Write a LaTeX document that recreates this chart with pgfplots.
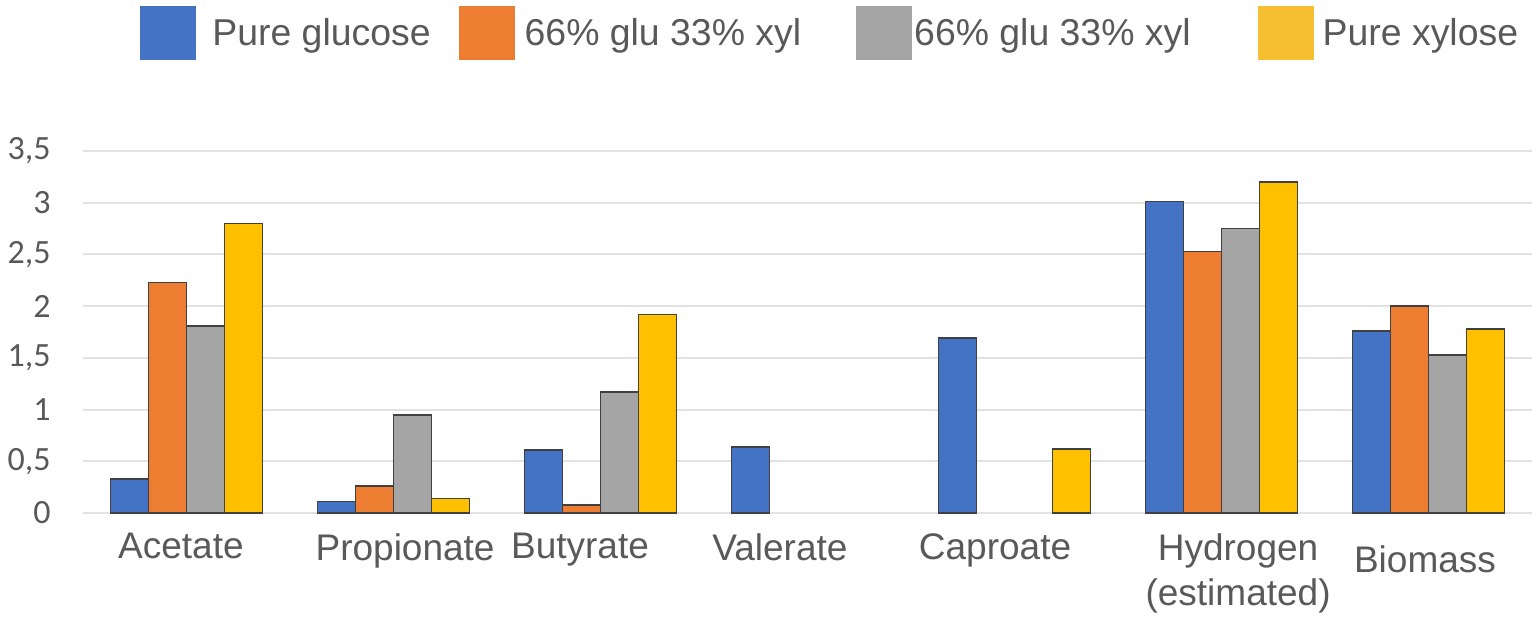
\documentclass[border=0pt]{standalone}
\usepackage{pgfplots}
\pgfplotsset{compat=1.18}
\usepackage{fontspec}
\setmainfont{Liberation Sans}
\newfontfamily\carlito{Carlito}
\definecolor{cblue}{HTML}{4472C4}
\definecolor{corange}{HTML}{ED7D31}
\definecolor{cgray}{HTML}{A5A5A5}
\definecolor{cyellow}{HTML}{FFC000}
\definecolor{lyellow}{HTML}{F6BF32}
\definecolor{txt}{HTML}{595959}
\definecolor{gridc}{HTML}{E2E2E2}
\begin{document}
\begin{tikzpicture}
\begin{axis}[
  scale only axis, width=724.5pt, height=181pt,
  xmin=-0.5, xmax=6.5, ymin=0, ymax=3.5,
  ybar, bar width=19pt,
  ytick={0,0.5,1,1.5,2,2.5,3,3.5},
  yticklabels={0,{0,5},1,{1,5},2,{2,5},3,{3,5}},
  ymajorgrids, grid style={gridc, line width=1pt},
  axis line style={draw=none},
  major tick length=0pt,
  xtick={-0.027,1.056,1.901,2.867,3.906,5.08,5.983},
  xticklabels={Acetate,Propionate,Butyrate,Valerate,Caproate,{Hydrogen\\(estimated)},\rule{0pt}{19.5pt}Biomass},
  xticklabel style={align=center, anchor=north, inner sep=0pt, yshift=-10pt, font=\fontsize{18.5}{22.5}\selectfont, text=txt},
  yticklabel style={anchor=east, inner sep=0pt, xshift=-16pt, font=\carlito\fontsize{17}{18}\selectfont, text=txt},
  every axis plot/.append style={draw=black!75, line width=0.8pt},
  legend columns=4,
  legend image code/.code={\fill[#1, draw=none] (0pt,-13pt) rectangle (28pt,14pt);},
  legend style={at={(rel axis cs:0,1)}, anchor=south west, xshift=28.5pt, yshift=45.5pt,
    draw=none, fill=none, inner sep=0pt, text=txt,
    font=\fontsize{18.7}{22}\selectfont,
    nodes={inner sep=0pt},
    /tikz/column 1/.style={column sep=8pt},
    /tikz/column 2/.style={column sep=14pt},
    /tikz/column 3/.style={column sep=5pt},
    /tikz/column 4/.style={column sep=27.5pt},
    /tikz/column 5/.style={column sep=1pt},
    /tikz/column 6/.style={column sep=33.5pt},
    /tikz/column 7/.style={column sep=4.5pt}},
]
\addlegendimage{fill=cblue}
\addlegendentry{Pure glucose}
\addlegendimage{fill=corange}
\addlegendentry{66\% glu 33\% xyl}
\addlegendimage{fill=cgray}
\addlegendentry{66\% glu 33\% xyl}
\addlegendimage{fill=lyellow}
\addlegendentry{Pure xylose}

\addplot[fill=cblue, bar shift=-28.5pt, forget plot] coordinates {(0,0.33) (1,0.11) (2,0.61) (3,0.64) (4,1.69) (5,3.01) (6,1.76)};
\addplot[fill=corange, bar shift=-9.5pt, forget plot] coordinates {(0,2.23) (1,0.26) (2,0.08) (5,2.53) (6,2.00)};
\addplot[fill=cgray, bar shift=9.5pt, forget plot] coordinates {(0,1.81) (1,0.95) (2,1.17) (5,2.75) (6,1.53)};
\addplot[fill=cyellow, bar shift=28.5pt, forget plot] coordinates {(0,2.80) (1,0.14) (2,1.92) (4,0.62) (5,3.20) (6,1.78)};

\coordinate (bl) at (rel axis cs:0,0);
\coordinate (tr) at (rel axis cs:1,1);
\end{axis}
\pgfresetboundingbox
\path (bl) +(-41.5pt,-54pt) coordinate (A);
\path (tr) +(3pt,75.5pt) coordinate (B);
\useasboundingbox (A) rectangle (B);
\end{tikzpicture}
\end{document}
